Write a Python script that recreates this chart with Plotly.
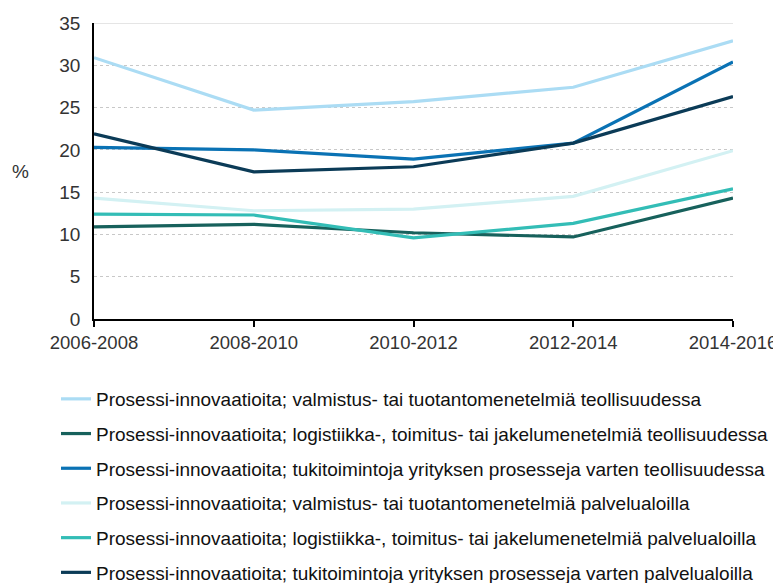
import plotly.graph_objects as go

categories = ["2006-2008", "2008-2010", "2010-2012", "2012-2014", "2014-2016"]
series_names = [
    "Prosessi-innovaatioita; valmistus- tai tuotantomenetelmiä teollisuudessa",
    "Prosessi-innovaatioita; logistiikka-, toimitus- tai jakelumenetelmiä teollisuudessa",
    "Prosessi-innovaatioita; tukitoimintoja yrityksen prosesseja varten teollisuudessa",
    "Prosessi-innovaatioita; valmistus- tai tuotantomenetelmiä palvelualoilla",
    "Prosessi-innovaatioita; logistiikka-, toimitus- tai jakelumenetelmiä palvelualoilla",
    "Prosessi-innovaatioita; tukitoimintoja yrityksen prosesseja varten palvelualoilla",
]
valmistus_teol = [30.9, 24.7, 25.7, 27.4, 32.9]
logistiikka_teol = [10.9, 11.2, 10.2, 9.7, 14.3]
tuki_teol = [20.3, 20.0, 18.9, 20.8, 30.4]
valmistus_palv = [14.3, 12.8, 13.0, 14.5, 19.9]
logistiikka_palv = [12.4, 12.3, 9.6, 11.3, 15.4]
tuki_palv = [21.9, 17.4, 18.0, 20.8, 26.3]

values = [valmistus_teol, logistiikka_teol, tuki_teol, valmistus_palv, logistiikka_palv, tuki_palv]
colors = ["#abdcf4", "#17615c", "#0a72b4", "#d3f1f3", "#33bdb6", "#0b3b57"]
y_ticks = [0, 5, 10, 15, 20, 25, 30, 35]

fig = go.Figure()
for i, (name, vals, col) in enumerate(zip(series_names, values, colors)):
    fig.add_trace(go.Scatter(
        x=categories, y=vals, name=name, mode="lines",
        line=dict(color=col, width=3.2),
        legendgroup=f"g{i}",
    ))

# the page body adds an 8px offset, so the figure is 8px smaller
fig.update_layout(
    width=773, height=575,
    margin=dict(l=86, r=48, t=15, b=264, autoexpand=False),
    paper_bgcolor="white", plot_bgcolor="white",
    font=dict(family="Liberation Sans, Arial, sans-serif", size=19, color="#222222"),
    showlegend=True,
    legend=dict(
        orientation="v",
        x=-38 / 639, xanchor="left", y=-61 / 296, yanchor="top",
        font=dict(size=19, color="#111111"),
        tracegroupgap=7, itemwidth=30,
        bgcolor="rgba(0,0,0,0)",
    ),
    xaxis=dict(
        type="category", range=[0, 4],
        showline=True, linecolor="black", linewidth=1.5,
        ticks="outside", ticklen=6, tickcolor="black", tickwidth=1.5,
        showgrid=False, tickfont=dict(size=18.5, color="#333333"),
    ),
    yaxis=dict(
        range=[0, 35], tickvals=y_ticks,
        showline=True, linecolor="black", linewidth=1.5,
        showgrid=True, gridcolor="#c8c8c8", griddash="dot", gridwidth=1,
        ticks="", zeroline=False, tickfont=dict(size=19, color="#333333"),
        ticklabelstandoff=8,
    ),
    shapes=[dict(type="line", xref="paper", x0=0, x1=1, yref="y", y0=35, y1=35,
                 line=dict(color="#dddddd", width=1.5), layer="below")],
    annotations=[dict(
        text="%", x=-74 / 639, xref="paper", y=17.4, yref="y",
        showarrow=False, font=dict(size=19, color="#333333"), xanchor="center",
    )],
)

fig.write_html("out.html")
